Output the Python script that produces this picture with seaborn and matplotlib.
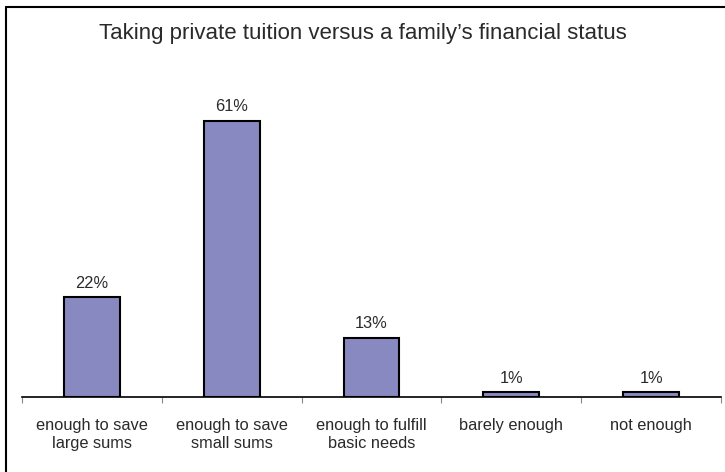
import matplotlib
matplotlib.use("Agg")
import matplotlib.pyplot as plt
import seaborn as sns
import pandas as pd
from matplotlib.lines import Line2D

# data
categories = ["enough to save\nlarge sums", "enough to save\nsmall sums",
              "enough to fulfill\nbasic needs", "barely enough", "not enough"]
values = [22, 61, 13, 1, 1]
title = "Taking private tuition versus a family\u2019s financial status"

sns.set_theme(style="white")
plt.rcParams['font.family'] = ['Liberation Sans', 'DejaVu Sans']

df = pd.DataFrame({"cat": categories, "val": values})

W, H = 725, 472
fig = plt.figure(figsize=(W / 100, H / 100), dpi=100)
ax = fig.add_axes([22 / W, 75 / H, (721 - 22) / W, (397 - 80) / H])

sns.barplot(data=df, x="cat", y="val", ax=ax, color="#8989C1", width=0.4,
            edgecolor="black", linewidth=1.5, saturation=1)

ax.set_ylim(0, 70)
ax.set_xlim(-0.5, len(categories) - 0.5)
for i, v in enumerate(values):
    ax.text(i, v + 1.5, f"{v}%", ha="center", va="bottom", fontsize=11.8, color="#2a2a2a")

for s in ["top", "right", "left"]:
    ax.spines[s].set_visible(False)
ax.spines["bottom"].set_linewidth(1.2)
ax.spines["bottom"].set_color("black")
ax.set_yticks([])
ax.set_xlabel("")
ax.set_ylabel("")

# tick marks between categories
ax.set_xticks([i - 0.5 for i in range(len(categories) + 1)], minor=True)
ax.tick_params(axis="x", which="minor", length=4, width=0.8, color="#888888",
               direction="out", bottom=True)
ax.tick_params(axis="x", which="major", length=0, pad=15, labelsize=11.8,
               labelcolor="#2a2a2a")
for lbl in ax.get_xticklabels():
    lbl.set_linespacing(1.25)

fig.text(0.5, 1 - 33 / H, title, ha="center", va="center", fontsize=16,
         color="#2a2a2a")

# outer frame (left and top edges)
fig.add_artist(Line2D([5.5 / W, 5.5 / W], [0, 1 - 7 / H], transform=fig.transFigure,
                      color="black", lw=1.5))
fig.add_artist(Line2D([5.5 / W, 1], [1 - 7 / H, 1 - 7 / H], transform=fig.transFigure,
                      color="black", lw=1.5))

fig.savefig("out.png", dpi=100, facecolor="white")
